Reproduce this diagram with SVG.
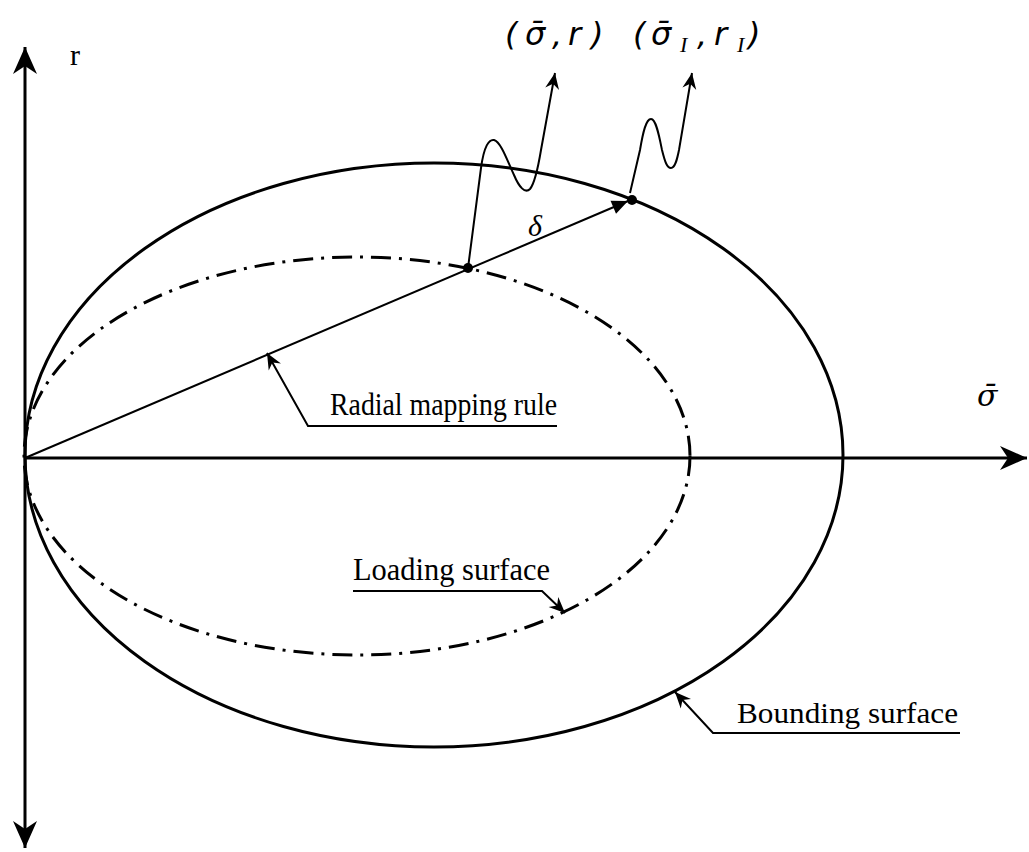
<svg xmlns="http://www.w3.org/2000/svg" width="1029" height="852" viewBox="0 0 1029 852">
<style>
.axis{stroke:#000;stroke-width:3;fill:none}
.solid{stroke:#000;stroke-width:3;fill:none}
.dashdot{stroke:#000;stroke-width:3;fill:none;stroke-dasharray:20 8 3 8}
.lead{stroke:#000;stroke-width:2;fill:none}
.ser{font-family:"Liberation Serif","Times New Roman",serif;fill:#000}
.ital{font-family:"DejaVu Sans","Verdana",sans-serif;font-style:italic;fill:#000}
</style>
<defs>
<marker id="axArrow" markerUnits="userSpaceOnUse" markerWidth="30" markerHeight="30" refX="0" refY="0" viewBox="-28 -15 30 30" orient="auto">
<path d="M0,0 L-27,-12 L-19,0 L-27,12 Z" fill="#000"/>
</marker>
<marker id="ldArrow" markerUnits="userSpaceOnUse" markerWidth="20" markerHeight="20" refX="0" refY="0" viewBox="-18 -10 20 20" orient="auto">
<path d="M0,0 L-16,-7 L-11,0 L-16,7 Z" fill="#000"/>
</marker>
<marker id="radArrow" markerUnits="userSpaceOnUse" markerWidth="20" markerHeight="20" refX="0" refY="0" viewBox="-18 -10 20 20" orient="auto">
<path d="M0,0 L-16,-7 L-16,7 Z" fill="#000"/>
</marker>
</defs>

<g id="axes">
<path class="axis" d="M25,458 L25,47" marker-end="url(#axArrow)"/>
<path class="axis" d="M25,458 L25,848" marker-end="url(#axArrow)"/>
<path class="axis" d="M25,458 L1027,458" marker-end="url(#axArrow)"/>
<text class="ser" x="70" y="65" font-size="30">r</text>
<text x="977" y="406" font-size="30" font-style="italic" font-family="DejaVu Serif, serif">σ̄</text>
</g>

<g id="bounding-surface">
<ellipse class="solid" cx="434" cy="455" rx="409" ry="292"/>
</g>

<g id="loading-surface">
<ellipse class="dashdot" cx="357" cy="456" rx="333" ry="199"/>
</g>

<g id="connectors">
<path class="lead" stroke-width="2.5" d="M25,458 L628,201" marker-end="url(#radArrow)"/>
<path class="lead" d="M468,268 L481,168 C484,146 489,139 494,140 C501,142 507,160 514,175 C519,187 525,194 530,189 C535,183 538,168 541,150 L555,73" marker-end="url(#ldArrow)"/>
<path class="lead" d="M630,193 L640,150 C643,132 646,119 651,119 C656,119 659,135 662,150 C665,162 667,168 671,168 C675,168 677,160 679,150 L692,73" marker-end="url(#ldArrow)"/>
<path class="lead" d="M557,426 L308,426 L267,353" marker-end="url(#ldArrow)"/>
<path class="lead" d="M353,591 L542,591 L565,613" marker-end="url(#ldArrow)"/>
<path class="lead" d="M960,733 L713,733 L675,692" marker-end="url(#ldArrow)"/>
</g>

<g id="points">
<circle cx="468" cy="268" r="5" fill="#000"/>
<circle cx="632" cy="200" r="5" fill="#000"/>
<text class="ser" x="528" y="236" font-size="30" font-style="italic">δ</text>
</g>

<g id="label-sigma-r">
<text class="ital" font-size="32" y="45"><tspan x="505">(</tspan><tspan x="525">σ̄</tspan><tspan x="552">,</tspan><tspan x="568">r</tspan><tspan x="591">)</tspan></text>
</g>
<g id="label-sigma-rI">
<text class="ital" font-size="32" y="45"><tspan x="633">(</tspan><tspan x="651">σ̄</tspan><tspan x="697">,</tspan><tspan x="714">r</tspan><tspan x="748">)</tspan></text>
<text class="ser" font-size="22" font-style="italic" y="52"><tspan x="680">I</tspan><tspan x="737">I</tspan></text>
</g>

<g id="label-radial">
<text class="ser" x="330" y="415" font-size="32" textLength="227" lengthAdjust="spacingAndGlyphs">Radial mapping rule</text>
</g>
<g id="label-loading">
<text class="ser" x="353" y="580" font-size="32" textLength="197" lengthAdjust="spacingAndGlyphs">Loading surface</text>
</g>
<g id="label-bounding">
<text class="ser" x="737" y="723" font-size="30" textLength="221" lengthAdjust="spacingAndGlyphs">Bounding surface</text>
</g>
</svg>
